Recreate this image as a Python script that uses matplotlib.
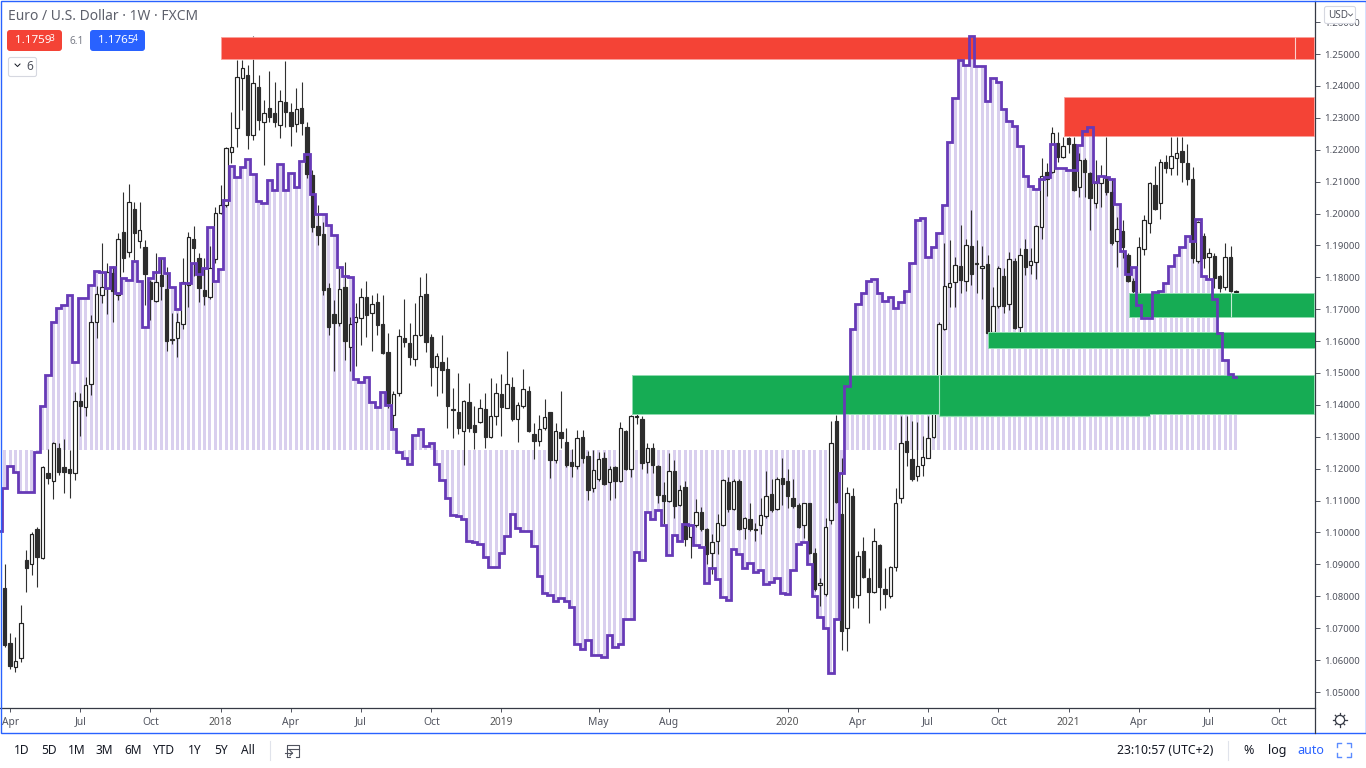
import matplotlib
matplotlib.use("Agg")
import matplotlib.pyplot as plt
from matplotlib.patches import Rectangle, FancyBboxPatch, Circle
import numpy as np

plt.rcParams['font.family'] = ['Noto Sans', 'DejaVu Sans']

# Weekly candles (EUR/USD), 10 bars per row
candle_dir = ("DDUUDUDUDU" "DDDUDUUUUU" "DUDUDUDDUD" "DDUUUDDDUU" "UUUUUDUDUD"
              "DUDDUDDDDD" "DDUDUUUDUD" "DDUUDDUUDD" "UDDDDUDDUD" "UUDUDUUDDU"
              "UDUDDDUDDU" "UDUDUDUUDU" "DDDUDUDUUD" "DUUUDUDUDD" "UUDUDDDDUD"
              "DUUUDDUDUD" "DUDDUUUDDU" "UUUUUUUDUD" "DUDUUDUDUD" "UUUDUDUDDU"
              "DDUUDDUDDD" "UUUDUDUUDD" "DUDUDDUDU")

body_top = [
    1.0827, 1.0654, 1.0598, 1.0717, 1.0915, 1.0996, 1.1012, 1.1204, 1.1188, 1.1279,
    1.1266, 1.1204, 1.1200, 1.1411, 1.1411, 1.1461, 1.1659, 1.1747, 1.1769, 1.1816,
    1.1813, 1.1920, 1.1942, 1.2036, 1.2014, 1.1948, 1.1894, 1.1785, 1.1785, 1.1807,
    1.1763, 1.1606, 1.1659, 1.1785, 1.1926, 1.1920, 1.1860, 1.1759, 1.1828, 1.2001,
    1.2026, 1.2205, 1.2208, 1.2428, 1.2456, 1.2435, 1.2409, 1.2397, 1.2315, 1.2331,
    1.2315, 1.2353, 1.2350, 1.2318, 1.2328, 1.2331, 1.2271, 1.2121, 1.1960, 1.1935,
    1.1766, 1.1684, 1.1763, 1.1769, 1.1653, 1.1675, 1.1737, 1.1737, 1.1715, 1.1722,
    1.1653, 1.1565, 1.1433, 1.1615, 1.1609, 1.1593, 1.1618, 1.1741, 1.1747, 1.1612,
    1.1552, 1.1536, 1.1511, 1.1386, 1.1379, 1.1411, 1.1408, 1.1336, 1.1389, 1.1386,
    1.1364, 1.1436, 1.1433, 1.1464, 1.1455, 1.1401, 1.1449, 1.1445, 1.1310, 1.1326,
    1.1361, 1.1379, 1.1317, 1.1314, 1.1285, 1.1222, 1.1295, 1.1298, 1.1241, 1.1197,
    1.1229, 1.1232, 1.1200, 1.1204, 1.1329, 1.1317, 1.1364, 1.1364, 1.1357, 1.1266,
    1.1266, 1.1210, 1.1119, 1.1194, 1.1194, 1.1134, 1.1144, 1.1022, 1.1065, 1.1065,
    1.1012, 1.0971, 1.1031, 1.1166, 1.1157, 1.1160, 1.1163, 1.1047, 1.1043, 1.1012,
    1.1056, 1.1113, 1.1122, 1.1169, 1.1172, 1.1160, 1.1109, 1.1087, 1.1091, 1.1091,
    1.0937, 1.0843, 1.1018, 1.1282, 1.1351, 1.1059, 1.1125, 1.1113, 1.0927, 1.0943,
    1.0858, 1.0974, 1.0962, 1.0824, 1.0893, 1.1094, 1.1282, 1.1288, 1.1229, 1.1210,
    1.1238, 1.1295, 1.1414, 1.1653, 1.1772, 1.1781, 1.1838, 1.1835, 1.1901, 1.1898,
    1.1844, 1.1835, 1.1841, 1.1709, 1.1828, 1.1803, 1.1857, 1.1850, 1.1869, 1.1888,
    1.1850, 1.1960, 1.2117, 1.2130, 1.2252, 1.2221, 1.2212, 1.2237, 1.2218, 1.2168,
    1.2168, 1.2127, 1.2095, 1.2117, 1.2111, 1.2067, 1.1951, 1.1945, 1.1869, 1.1788,
    1.1894, 1.1979, 1.2095, 1.2089, 1.2161, 1.2161, 1.2180, 1.2190, 1.2196, 1.2158,
    1.2108, 1.1973, 1.1929, 1.1876, 1.1866, 1.1803, 1.1863, 1.1863, 1.1756]

body_bottom = [
    1.0648, 1.0582, 1.0579, 1.0607, 1.0890, 1.0902, 1.0924, 1.0921, 1.1172, 1.1160,
    1.1191, 1.1191, 1.1185, 1.1188, 1.1395, 1.1392, 1.1467, 1.1659, 1.1744, 1.1766,
    1.1756, 1.1744, 1.1860, 1.1879, 1.1938, 1.1913, 1.1810, 1.1731, 1.1725, 1.1772,
    1.1599, 1.1602, 1.1609, 1.1653, 1.1775, 1.1891, 1.1766, 1.1741, 1.1737, 1.1857,
    1.2001, 1.2026, 1.2193, 1.2268, 1.2425, 1.2246, 1.2246, 1.2293, 1.2287, 1.2303,
    1.2287, 1.2278, 1.2318, 1.2274, 1.2281, 1.2284, 1.2124, 1.1957, 1.1932, 1.1759,
    1.1643, 1.1656, 1.1656, 1.1599, 1.1580, 1.1659, 1.1671, 1.1681, 1.1687, 1.1650,
    1.1562, 1.1405, 1.1367, 1.1436, 1.1596, 1.1549, 1.1543, 1.1618, 1.1596, 1.1518,
    1.1518, 1.1508, 1.1398, 1.1383, 1.1329, 1.1317, 1.1329, 1.1314, 1.1345, 1.1298,
    1.1298, 1.1364, 1.1392, 1.1389, 1.1357, 1.1357, 1.1395, 1.1317, 1.1288, 1.1288,
    1.1329, 1.1226, 1.1226, 1.1295, 1.1213, 1.1207, 1.1207, 1.1235, 1.1134, 1.1141,
    1.1169, 1.1153, 1.1157, 1.1163, 1.1160, 1.1200, 1.1200, 1.1361, 1.1219, 1.1222,
    1.1213, 1.1119, 1.1100, 1.1100, 1.1084, 1.1087, 1.0981, 1.0987, 1.1022, 1.1012,
    1.0934, 1.0937, 1.0974, 1.1025, 1.1075, 1.1075, 1.1012, 1.1015, 1.1012, 1.1009,
    1.1022, 1.1053, 1.1069, 1.1075, 1.1153, 1.1113, 1.1084, 1.1018, 1.1025, 1.0937,
    1.0824, 1.0836, 1.0808, 1.1040, 1.1097, 1.0692, 1.0701, 1.0799, 1.0805, 1.0861,
    1.0814, 1.0814, 1.0830, 1.0808, 1.0802, 1.0893, 1.1109, 1.1251, 1.1169, 1.1178,
    1.1213, 1.1235, 1.1298, 1.1414, 1.1637, 1.1769, 1.1784, 1.1791, 1.1788, 1.1810,
    1.1841, 1.1828, 1.1624, 1.1628, 1.1709, 1.1709, 1.1715, 1.1640, 1.1643, 1.1832,
    1.1838, 1.1847, 1.1957, 1.2108, 1.2130, 1.2177, 1.2177, 1.2218, 1.2073, 1.2083,
    1.2130, 1.2048, 1.2033, 1.2095, 1.2067, 1.1907, 1.1913, 1.1894, 1.1788, 1.1756,
    1.1750, 1.1888, 1.1970, 1.2014, 1.2033, 1.2142, 1.2142, 1.2174, 1.2161, 1.2108,
    1.1860, 1.1850, 1.1860, 1.1863, 1.1797, 1.1766, 1.1769, 1.1756, 1.1753]

highs = [
    1.0902, 1.0686, 1.0673, 1.0773, 1.0946, 1.1003, 1.1018, 1.1207, 1.1263, 1.1285,
    1.1282, 1.1292, 1.1260, 1.1439, 1.1436, 1.1486, 1.1681, 1.1772, 1.1907, 1.1844,
    1.1835, 1.1938, 1.2067, 1.2092, 1.2036, 1.2036, 1.1916, 1.1791, 1.1876, 1.1860,
    1.1832, 1.1687, 1.1687, 1.1860, 1.1942, 1.1960, 1.1876, 1.1860, 1.1898, 1.2020,
    1.2089, 1.2208, 1.2318, 1.2482, 1.2482, 1.2466, 1.2557, 1.2435, 1.2356, 1.2447,
    1.2412, 1.2387, 1.2478, 1.2347, 1.2394, 1.2412, 1.2287, 1.2136, 1.2026, 1.1973,
    1.1781, 1.1728, 1.1828, 1.1847, 1.1675, 1.1719, 1.1766, 1.1788, 1.1744, 1.1750,
    1.1744, 1.1624, 1.1445, 1.1637, 1.1731, 1.1656, 1.1719, 1.1800, 1.1813, 1.1621,
    1.1562, 1.1618, 1.1549, 1.1452, 1.1499, 1.1414, 1.1470, 1.1398, 1.1420, 1.1436,
    1.1483, 1.1470, 1.1496, 1.1568, 1.1486, 1.1408, 1.1511, 1.1458, 1.1342, 1.1367,
    1.1417, 1.1379, 1.1342, 1.1445, 1.1329, 1.1263, 1.1320, 1.1320, 1.1257, 1.1260,
    1.1251, 1.1251, 1.1210, 1.1207, 1.1345, 1.1320, 1.1367, 1.1370, 1.1364, 1.1282,
    1.1279, 1.1213, 1.1157, 1.1248, 1.1226, 1.1150, 1.1160, 1.1028, 1.1106, 1.1081,
    1.1015, 1.0996, 1.1059, 1.1169, 1.1175, 1.1169, 1.1169, 1.1050, 1.1094, 1.1031,
    1.1109, 1.1194, 1.1169, 1.1175, 1.1235, 1.1200, 1.1169, 1.1091, 1.1094, 1.1094,
    1.0952, 1.0858, 1.1047, 1.1351, 1.1367, 1.1232, 1.1144, 1.1141, 1.0943, 1.0987,
    1.0890, 1.1015, 1.0965, 1.0890, 1.0896, 1.1141, 1.1364, 1.1364, 1.1351, 1.1345,
    1.1301, 1.1364, 1.1420, 1.1659, 1.1907, 1.1916, 1.1863, 1.1964, 1.1920, 1.2011,
    1.1916, 1.1898, 1.1869, 1.1769, 1.1835, 1.1828, 1.1879, 1.1860, 1.1891, 1.1920,
    1.1891, 1.1964, 1.2174, 1.2158, 1.2271, 1.2255, 1.2240, 1.2240, 1.2240, 1.2190,
    1.2174, 1.2130, 1.2168, 1.2152, 1.2240, 1.2111, 1.1989, 1.1979, 1.1876, 1.1797,
    1.1926, 1.1995, 1.2099, 1.2149, 1.2171, 1.2183, 1.2240, 1.2240, 1.2240, 1.2218,
    1.2146, 1.1976, 1.1938, 1.1891, 1.1876, 1.1806, 1.1907, 1.1898, 1.1759]

lows = [
    1.0642, 1.0572, 1.0563, 1.0594, 1.0814, 1.0868, 1.0830, 1.0918, 1.1153, 1.1106,
    1.1179, 1.1125, 1.1109, 1.1166, 1.1304, 1.1364, 1.1430, 1.1609, 1.1719, 1.1684,
    1.1659, 1.1728, 1.1816, 1.1863, 1.1854, 1.1891, 1.1712, 1.1665, 1.1722, 1.1728,
    1.1568, 1.1590, 1.1549, 1.1637, 1.1706, 1.1803, 1.1722, 1.1712, 1.1731, 1.1844,
    1.1998, 1.2020, 1.2158, 1.2208, 1.2325, 1.2202, 1.2230, 1.2262, 1.2152, 1.2287,
    1.2271, 1.2237, 1.2271, 1.2212, 1.2256, 1.2246, 1.2111, 1.1942, 1.1901, 1.1744,
    1.1618, 1.1505, 1.1646, 1.1540, 1.1505, 1.1521, 1.1587, 1.1612, 1.1568, 1.1618,
    1.1558, 1.1389, 1.1326, 1.1427, 1.1580, 1.1524, 1.1521, 1.1615, 1.1565, 1.1458,
    1.1427, 1.1436, 1.1329, 1.1295, 1.1310, 1.1213, 1.1314, 1.1263, 1.1342, 1.1266,
    1.1295, 1.1336, 1.1301, 1.1389, 1.1351, 1.1285, 1.1389, 1.1314, 1.1229, 1.1270,
    1.1320, 1.1172, 1.1219, 1.1266, 1.1204, 1.1175, 1.1200, 1.1219, 1.1103, 1.1128,
    1.1163, 1.1150, 1.1103, 1.1109, 1.1157, 1.1197, 1.1175, 1.1339, 1.1200, 1.1188,
    1.1188, 1.1094, 1.1028, 1.1097, 1.1047, 1.1084, 1.0959, 1.0921, 1.1018, 1.1006,
    1.0902, 1.0871, 1.0934, 1.1021, 1.1065, 1.1072, 1.1009, 1.0981, 1.1006, 1.0974,
    1.0996, 1.1047, 1.1065, 1.1072, 1.1087, 1.1078, 1.1078, 1.1015, 1.0984, 1.0934,
    1.0817, 1.0770, 1.0802, 1.1028, 1.1094, 1.0632, 1.0629, 1.0764, 1.0764, 1.0858,
    1.0717, 1.0811, 1.0758, 1.0764, 1.0795, 1.0880, 1.1094, 1.1210, 1.1163, 1.1160,
    1.1178, 1.1232, 1.1295, 1.1408, 1.1634, 1.1706, 1.1706, 1.1750, 1.1756, 1.1775,
    1.1750, 1.1731, 1.1618, 1.1624, 1.1703, 1.1687, 1.1697, 1.1637, 1.1628, 1.1807,
    1.1810, 1.1794, 1.1920, 1.2055, 1.2127, 1.2161, 1.2174, 1.2190, 1.2070, 1.2051,
    1.2051, 1.1948, 1.2017, 1.2020, 1.2058, 1.1901, 1.1832, 1.1860, 1.1785, 1.1750,
    1.1747, 1.1869, 1.1938, 1.2011, 1.1982, 1.2127, 1.2121, 1.2121, 1.2099, 1.2089,
    1.1844, 1.1844, 1.1828, 1.1797, 1.1766, 1.1753, 1.1759, 1.1753, 1.1746]

# Purple step series: first value sits one bar left of the first candle
indicator = [
    1.1006,
    1.1141, 1.1210, 1.1191, 1.1128, 1.1128, 1.1128, 1.1251, 1.1398, 1.1493, 1.1659,
    1.1703, 1.1712, 1.1744, 1.1533, 1.1734, 1.1734, 1.1775, 1.1819, 1.1816, 1.1766,
    1.1832, 1.1750, 1.1797, 1.1791, 1.1850, 1.1788, 1.1643, 1.1797, 1.1816, 1.1860,
    1.1813, 1.1769, 1.1700, 1.1781, 1.1781, 1.1844, 1.1810, 1.1828, 1.1957, 1.1788,
    1.1825, 1.2042, 1.2149, 1.2114, 1.2146, 1.2171, 1.2124, 1.2039, 1.2033, 1.2105,
    1.2073, 1.2155, 1.2073, 1.2127, 1.2083, 1.2164, 1.2186, 1.2061, 1.1998, 1.1998,
    1.1964, 1.1932, 1.1832, 1.1803, 1.1800, 1.1480, 1.1471, 1.1486, 1.1408, 1.1392,
    1.1439, 1.1401, 1.1326, 1.1251, 1.1232, 1.1216, 1.1307, 1.1326, 1.1270, 1.1282,
    1.1216, 1.1166, 1.1109, 1.1056, 1.1053, 1.1043, 1.0974, 1.0971, 1.0965, 1.0924,
    1.0893, 1.0893, 1.0937, 1.0990, 1.1059, 1.1015, 1.1006, 1.1006, 1.0959, 1.0865,
    1.0811, 1.0805, 1.0786, 1.0795, 1.0786, 1.0767, 1.0651, 1.0635, 1.0664, 1.0616,
    1.0616, 1.0610, 1.0679, 1.0642, 1.0651, 1.0729, 1.0729, 1.0940, 1.0915, 1.1065,
    1.1043, 1.1069, 1.1025, 1.0930, 1.0993, 1.0974, 1.1028, 1.1022, 1.0962, 1.0956,
    1.0843, 1.0890, 1.0855, 1.0799, 1.0789, 1.0949, 1.0934, 1.0890, 1.0905, 1.0877,
    1.0883, 1.0839, 1.0846, 1.0858, 1.0811, 1.0808, 1.0883, 1.0965, 1.0971, 1.0902,
    1.0802, 1.0736, 1.0701, 1.0560, 1.0729, 1.1185, 1.1458, 1.1637, 1.1715, 1.1750,
    1.1788, 1.1794, 1.1750, 1.1725, 1.1737, 1.1703, 1.1722, 1.1756, 1.1844, 1.1979,
    1.1985, 1.1863, 1.1894, 1.1938, 1.2026, 1.2224, 1.2362, 1.2482, 1.2466, 1.2557,
    1.2463, 1.2463, 1.2353, 1.2425, 1.2412, 1.2328, 1.2290, 1.2274, 1.2212, 1.2117,
    1.2086, 1.2077, 1.2108, 1.2114, 1.2218, 1.2142, 1.2142, 1.2136, 1.2136, 1.2215,
    1.2259, 1.2271, 1.2099, 1.2117, 1.2114, 1.2108, 1.2029, 1.1882, 1.1810, 1.1832,
    1.1712, 1.1671, 1.1671, 1.1753, 1.1756, 1.1781, 1.1835, 1.1869, 1.1894, 1.1929,
    1.1913, 1.1982, 1.1803, 1.1794, 1.1731, 1.1624, 1.1540, 1.1496, 1.1489]
hist_base = 1.1259

# Zones: (first bar, low price, high price), all open to the right
red_zones = [(40.1, 1.2485, 1.2554), (196.2, 1.2243, 1.2365)]
green_zones = [(208.2, 1.1676, 1.1750), (182.1, 1.1577, 1.1629), (116.2, 1.1372, 1.1495)]
# Second drawing inside the wide green zone: start bar, end bar, its lower edge
inner_green = (173.0, 212.1, 1.1364)

price_ticks = [1.05, 1.06, 1.07, 1.08, 1.09, 1.10, 1.11, 1.12, 1.13, 1.14, 1.15,
               1.16, 1.17, 1.18, 1.19, 1.20, 1.21, 1.22, 1.23, 1.24, 1.25, 1.26]
time_tick_bars = [1, 14, 27, 40, 53, 66, 79, 92, 110, 123, 145, 158, 171, 184, 197, 210, 223, 236]
time_tick_labels = ['Apr', 'Jul', 'Oct', '2018', 'Apr', 'Jul', 'Oct', '2019', 'May', 'Aug',
                    '2020', 'Apr', 'Jul', 'Oct', '2021', 'Apr', 'Jul', 'Oct']
range_buttons = ['1D', '5D', '1M', '3M', '6M', 'YTD', '1Y', '5Y', 'All']
range_button_x = [22, 49, 77, 104, 133, 164, 195, 221, 248]

W, H = 1366, 768
AXIS_X, AXIS_Y = 1314.5, 707.5
BAR_X0, BAR_STEP = 4.7, 5.4
TEXT = '#131722'
GREY = '#50535e'
LINE = '#363a45'
BLUE = '#2962ff'
GREEN = '#16ac54'

fig = plt.figure(figsize=(W / 100, H / 100), dpi=100, facecolor='white')
ax = fig.add_axes([0, 1 - AXIS_Y / H, AXIS_X / W, (AXIS_Y - 1) / H])

bars = np.arange(len(body_top))
is_up = np.array([c == 'U' for c in candle_dir])
top = np.array(body_top)
bot = np.array(body_bottom)

# Histogram behind everything
ind = np.array(indicator)
ax.bar(bars, ind[1:] - hist_base, bottom=hist_base, width=0.54, color='#d9cfee', linewidth=0, zorder=1)

# Candles
ax.vlines(bars, lows, highs, color='#303030', linewidth=0.8, zorder=2)
ax.bar(bars[is_up], (top - bot)[is_up], bottom=bot[is_up], width=0.62, color='white',
       edgecolor='#222222', linewidth=0.85, zorder=3)
ax.bar(bars[~is_up], (top - bot)[~is_up], bottom=bot[~is_up], width=0.62, color='#2d2d2d',
       edgecolor='#2d2d2d', linewidth=0.85, zorder=3)

xlim = ((0 - BAR_X0) / BAR_STEP, (AXIS_X - BAR_X0) / BAR_STEP)
ax.set_xlim(xlim)
ax.set_ylim(1.05 - (AXIS_Y - 692) * 0.2 / 638, 1.25 + (54 - 1) * 0.2 / 638)

# Zones sit over the candles, the purple line over the zones
for x0, lo, hi in red_zones:
    ax.add_patch(Rectangle((x0, lo), xlim[1] - x0, hi - lo, facecolor='#f44336',
                           edgecolor='#f9a19a', linewidth=0.6, zorder=4))
for x0, lo, hi in green_zones:
    ax.add_patch(Rectangle((x0, lo), xlim[1] - x0, hi - lo, facecolor=GREEN,
                           edgecolor='#8fdcb0', linewidth=0.7, zorder=4))
ax.add_patch(Rectangle((inner_green[0], inner_green[2]), inner_green[1] - inner_green[0],
                       1.1372 - inner_green[2], facecolor=GREEN, linewidth=0, zorder=4))
ax.vlines(inner_green[0], inner_green[2], 1.1495, color='#a8e3c2', linewidth=0.8, zorder=5)
ax.hlines(inner_green[2], inner_green[0], inner_green[1], color='#8fdcb0', linewidth=0.9, zorder=5)
ax.vlines(239.0, 1.2485, 1.2554, color='#fbd0cc', linewidth=0.8, zorder=5)
ax.vlines(227, 1.1676, 1.1750, color='#c5ecd5', linewidth=0.8, zorder=5)

ax.step(np.arange(-1, len(body_top)), ind, where='mid', color='#673ab7', linewidth=2.0,
        solid_joinstyle='miter', zorder=6)

# Axes
for side in ['top', 'left']:
    ax.spines[side].set_visible(False)
for side in ['right', 'bottom']:
    ax.spines[side].set_color(LINE)
    ax.spines[side].set_linewidth(0.9)
ax.yaxis.tick_right()
ax.set_yticks(price_ticks)
ax.set_yticklabels(['%.5f' % p for p in price_ticks])
ax.tick_params(axis='y', length=3.5, width=0.7, color=GREY, labelcolor=GREY, labelsize=6.9, pad=3.5)
ax.set_xticks(time_tick_bars)
ax.set_xticklabels(time_tick_labels)
ax.tick_params(axis='x', length=3, width=0.7, color=GREY, labelcolor=GREY, labelsize=7.4, pad=3.5)
for label in ax.get_xticklabels():
    if label.get_text().startswith('20'):
        label.set_fontweight('bold')
        label.set_color('#555555')

# Overlay in pixel space for the chart's frame and toolbars
ui = fig.add_axes([0, 0, 1, 1], facecolor='none')
ui.set_xlim(0, W)
ui.set_ylim(H, 0)
ui.axis('off')
ui.add_patch(Rectangle((0.5, 1), W - 1, 732, fill=False, edgecolor=BLUE, linewidth=1.0))
ui.plot([AXIS_X, AXIS_X], [AXIS_Y, 733], color=LINE, linewidth=0.9)

ui.text(8, 16, 'Euro / U.S. Dollar · 1W · FXCM', color='#5d606b', fontsize=9.95, va='center')


def badge(x0, x1, y0, y1, color):
    ui.add_patch(FancyBboxPatch((x0 + 2, y0 + 2), x1 - x0 - 4, y1 - y0 - 4,
                                boxstyle='round,pad=2,rounding_size=3', facecolor=color,
                                edgecolor='none'))


badge(7, 62, 30, 51, '#f44336')
ui.text(15, 40.5, '1.1759', color='white', fontsize=8.4, fontweight='medium', va='center')
ui.text(50, 38.5, '3', color='white', fontsize=6, va='center')
ui.text(69, 41, '6.1', color='#787b86', fontsize=7.2, va='center')
badge(90, 145, 30, 51, BLUE)
ui.text(98, 40.5, '1.1765', color='white', fontsize=8.4, fontweight='medium', va='center')
ui.text(133, 38.5, '4', color='white', fontsize=6, va='center')

ui.add_patch(FancyBboxPatch((10, 59), 25, 16, boxstyle='round,pad=1.5,rounding_size=2',
                            facecolor='white', edgecolor='#d6d8e0', linewidth=0.8))
ui.plot([15, 17.5, 20], [64, 66.5, 64], color=TEXT, linewidth=0.7)
ui.text(26, 66, '6', color='#50535e', fontsize=8.6, va='center')

# Currency button over the price scale
ui.add_patch(FancyBboxPatch((1326, 8), 28, 14, boxstyle='round,pad=1.5,rounding_size=2',
                            facecolor='white', edgecolor='#d6d8e0', linewidth=0.8, zorder=8))
ui.text(1328, 15, 'USD', color='#50535e', fontsize=7.2, va='center', zorder=9)
ui.plot([1348.5, 1350.5, 1352.5], [14, 16, 14], color='#50535e', linewidth=0.6, zorder=9)

# Settings gear at the corner of the scales
ui.add_patch(Circle((1340, 720), 4.6, fill=False, edgecolor=LINE, linewidth=0.9))
for a in np.arange(0, 360, 45):
    ca, sa = np.cos(np.radians(a)), np.sin(np.radians(a))
    ui.plot([1340 + 4.6 * ca, 1340 + 6.6 * ca], [720 + 4.6 * sa, 720 + 6.6 * sa], color=LINE, linewidth=0.9)

# Bottom toolbar
for name, x in zip(range_buttons, range_button_x):
    ui.text(x, 750.5, name, color=TEXT, fontsize=8.6, ha='center', va='center')
ui.plot([270, 270], [741, 760], color='#e0e3eb', linewidth=0.8)
ui.plot([1228, 1228], [741, 760], color='#e0e3eb', linewidth=0.8)
ui.plot([290, 287, 287, 299, 299, 296], [757, 757, 745, 745, 757, 757], color=GREY, linewidth=0.8)
ui.plot([287, 299], [748.5, 748.5], color=GREY, linewidth=0.8)
ui.plot([285, 292], [753, 753], color=GREY, linewidth=0.8)
ui.plot([290, 292.5, 290], [750.5, 753, 755.5], color=GREY, linewidth=0.8)

ui.text(1213, 750.5, '23:10:57 (UTC+2)', color=TEXT, fontsize=8.8, ha='right', va='center')
ui.text(1249, 750.5, '%', color=TEXT, fontsize=9, ha='center', va='center')
ui.text(1277, 750.5, 'log', color=TEXT, fontsize=9, ha='center', va='center')
ui.text(1311, 750.5, 'auto', color=BLUE, fontsize=9, ha='center', va='center')
for cx, cy, dx, dy in [(1337, 743, 1, 1), (1351, 743, -1, 1), (1337, 757, 1, -1), (1351, 757, -1, -1)]:
    ui.plot([cx + 4 * dx, cx, cx], [cy, cy, cy + 4 * dy], color='#5b8bff', linewidth=1.0)

fig.savefig('out.png', dpi=100, facecolor='white')
